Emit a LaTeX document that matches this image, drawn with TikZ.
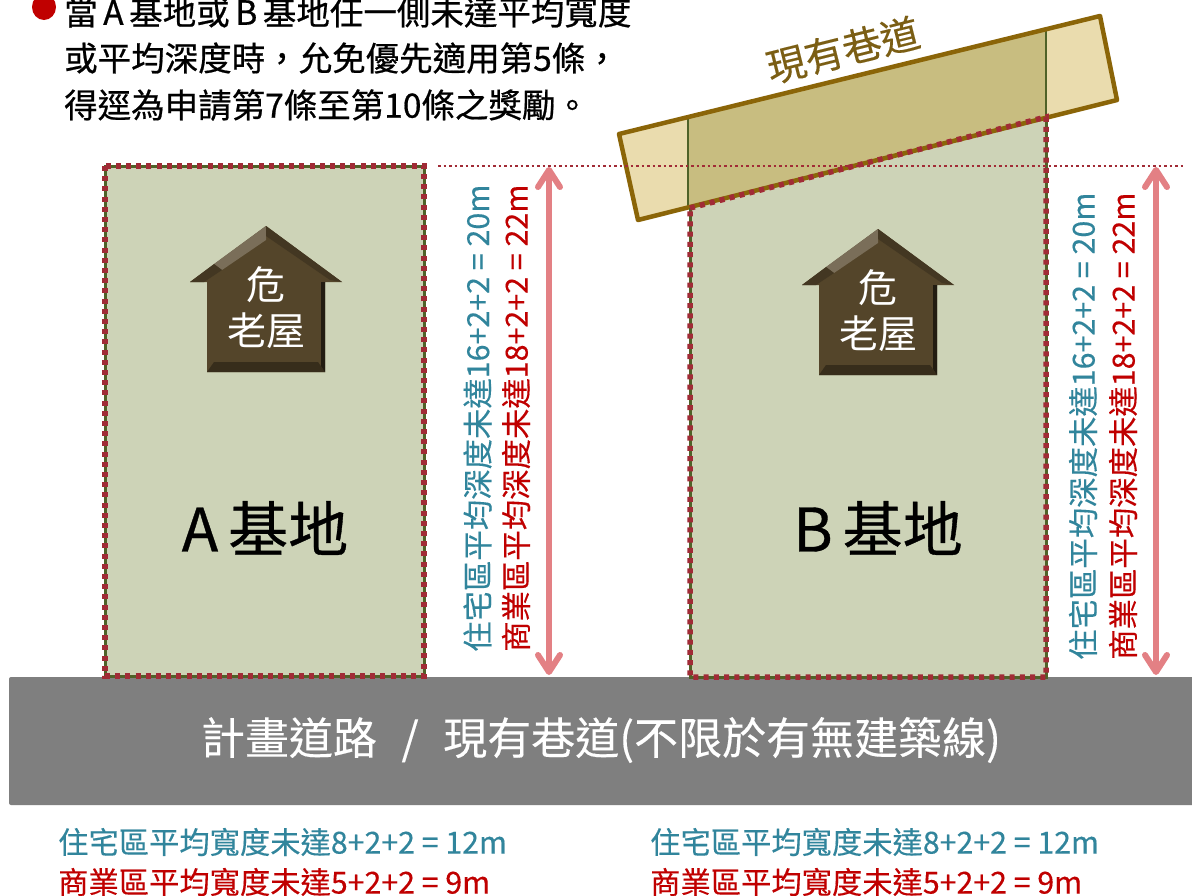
\documentclass[tikz,border=0pt]{standalone}
\usepackage{fontspec}
\usetikzlibrary{arrows.meta,calc}
\setmainfont{Noto Sans CJK TC}
\newfontfamily\cjkbold[FakeBold=0.6]{Noto Sans CJK TC}
\newfontfamily\cjksemi[FakeBold=0.25]{Noto Sans CJK TC}
\newcommand{\fsz}[1]{\fontsize{#1}{#1}\selectfont}
\definecolor{siteg}{HTML}{CDD3B7}
\definecolor{edgeg}{HTML}{4F6228}
\definecolor{dotr}{HTML}{A12B36}
\definecolor{lanel}{HTML}{EADCAE}
\definecolor{laned}{HTML}{C8BD80}
\definecolor{lanee}{HTML}{8B6508}
\definecolor{lanet}{HTML}{7B5E14}
\definecolor{roadg}{HTML}{7F7F7F}
\definecolor{housem}{HTML}{54452A}
\definecolor{teal1}{HTML}{31859C}
\definecolor{red1}{HTML}{C00000}
\definecolor{arrowp}{HTML}{E38084}
\tikzset{
  x=1pt,y=-1pt,
  site/.style={fill=siteg,draw=edgeg,line width=3pt},
  dots/.style={draw=dotr,line width=5.5pt,dash pattern=on 5pt off 5.2pt},
  guide/.style={draw=dotr,line width=2.5pt,dash pattern=on 2.5pt off 3pt},
  meas/.style={draw=arrowp,line width=6pt,{Straight Barb[length=17pt,width=22pt,line width=6pt,round]}-{Straight Barb[length=17pt,width=22pt,line width=6pt,round]}},
  vtxt/.style={rotate=90,anchor=west,inner sep=0pt,font=\cjksemi\fsz{30.4}},
  htxt/.style={anchor=west,inner sep=0pt,font=\cjksemi\fsz{30.3}},
  toptxt/.style={anchor=west,inner sep=0pt,font=\cjkbold\fsz{33.5},text=black},
  sitetxt/.style={inner sep=0pt,font=\cjkbold\fsz{60},text=black},
  housetxt/.style={inner sep=0pt,font=\fsz{39},text=white},
}
\newcommand{\house}[3]{%
  \begin{scope}[shift={(#1,#2)}]
    \fill[housem] (0,0) -- (76,56) -- (59,56) -- (59,146) -- (-59,146) -- (-59,56) -- (-76,56) -- cycle;
    \fill[housem!78!white] (0,0) -- (-52,38) -- (-44,44) -- (0,14) -- cycle;
    \fill[housem!80!black] (0,0) -- (76,56) -- (64,54) -- (0,10) -- cycle;
    \fill[housem!80!black] (-76,56) -- (-52,38) -- (-44,44) -- (-62,56) -- cycle;
    \fill[housem!65!black] (-59,146) -- (59,146) -- (52,136) -- (-52,136) -- cycle;
    \fill[housem!40!black] (59,56) -- (59,146) -- (55,140) -- (55,56) -- cycle;
    \node[housetxt] (#3a) at (0,59) {危};
    \node[housetxt] (#3b) at (0,105) {老屋};
  \end{scope}}
\begin{document}
\begin{tikzpicture}
\useasboundingbox (0,0) rectangle (1192,895);
\fill[white] (0,0) rectangle (1192,895);
% road
\fill[roadg,rounded corners=2pt] (9,677) rectangle (1200,805);
\node[inner sep=0pt,font=\cjksemi\fsz{44},text=white] (road) at (601,740) {計畫道路\,\, /\,\, 現有巷道(不限於有無建築線)};
% top text
\fill[red1] (44,7) ellipse (12 and 13);
\node[toptxt] (t1) at (64,12) {當\,A\,基地或\,B\,基地任一側未達平均寬度};
\node[toptxt] (t2) at (64,58) {或平均深度時，允免優先適用第5條，};
\node[toptxt] (t3) at (64,105) {得逕為申請第7條至第10條之獎勵。};
% lane
\fill[lanel] (619,134) -- (1100,16) -- (1117,100) -- (638,220) -- cycle;
% site B
\path[fill=siteg] (690,208) -- (1046,117) -- (1046,677) -- (690,677) -- cycle;
\fill[laned] (688,117) -- (1046,29) -- (1046,118) -- (688,207.5) -- cycle;
\draw[edgeg,line width=2.5pt] (688,117) -- (688,207.5) (1046,29) -- (1046,118);
\draw[lanee,line width=4.5pt,line join=round] (619,134) -- (1100,16) -- (1117,100) -- (638,220) -- cycle;
\draw[edgeg,line width=3pt] (690,208) -- (690,677) -- (1046,677) -- (1046,117);
% site A
\draw[site] (105,166) rectangle (424,676);
% dotted outlines
\draw[dots] (105,166) rectangle (424,676);
\draw[dots] (690,208) -- (1046,117) -- (1046,677) -- (690,677) -- cycle;
% guide
\draw[guide] (438,166) -- (1184,166);
% houses
\house{266}{226}{ha}
\house{878}{229}{hb}
% site names
\node[sitetxt] (sa) at (265,528) {A\,基地};
\node[sitetxt] (sb) at (878,528) {B\,基地};
% lane label
\node[inner sep=0pt,rotate=14,font=\cjksemi\fsz{39},text=lanet] (ln) at (843,50) {現有巷道};
% arrows
\coordinate (a1) at (549,167);
\coordinate (a2) at (549,675);
\coordinate (b1) at (1156,167);
\coordinate (b2) at (1156,675);
\draw[meas] (a1) -- (a2);
\draw[meas] (b1) -- (b2);
% vertical labels
\node[vtxt,text=teal1] (v1) at (477.5,652) {住宅區平均深度未達16+2+2 = 20m};
\node[vtxt,text=red1] (v2) at (516,652) {商業區平均深度未達18+2+2 = 22m};
\node[vtxt,text=teal1] (v3) at (1083,660) {住宅區平均深度未達16+2+2 = 20m};
\node[vtxt,text=red1] (v4) at (1123,660) {商業區平均深度未達18+2+2 = 22m};
% bottom labels
\node[htxt,text=teal1] (h1) at (58,842) {住宅區平均寬度未達8+2+2 = 12m};
\node[htxt,text=red1] (h2) at (58,882) {商業區平均寬度未達5+2+2 = 9m};
\node[htxt,text=teal1] (h3) at (650,842) {住宅區平均寬度未達8+2+2 = 12m};
\node[htxt,text=red1] (h4) at (650,882) {商業區平均寬度未達5+2+2 = 9m};
\end{tikzpicture}
\end{document}
